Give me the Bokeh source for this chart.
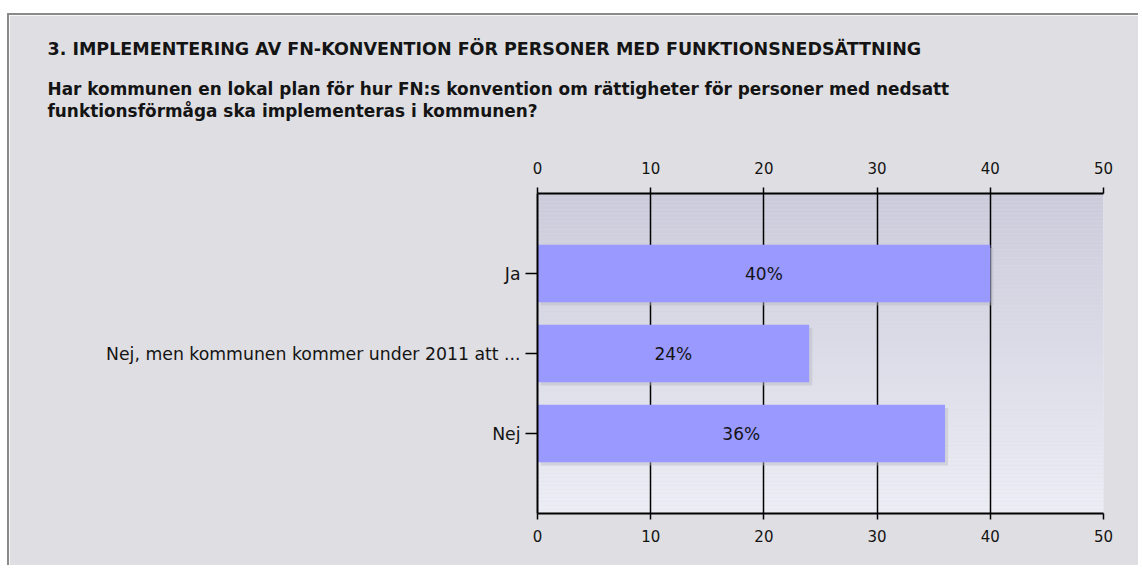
import numpy as np
from bokeh.plotting import figure
from bokeh.models import Range1d, FixedTicker, LinearAxis, ColumnDataSource, Spacer, Title
from bokeh.layouts import column, row
from bokeh.core.properties import value
from bokeh.embed import file_html
from bokeh.resources import INLINE

# ---- data ----
categories = ["Ja", "Nej, men kommunen kommer under 2011 att ...", "Nej"]
percent = [40, 24, 36]
x_ticks = [0, 10, 20, 30, 40, 50]
title_text = "3. IMPLEMENTERING AV FN-KONVENTION FÖR PERSONER MED FUNKTIONSNEDSÄTTNING"
question_lines = [
    "Har kommunen en lokal plan för hur FN:s konvention om rättigheter för personer med nedsatt",
    "funktionsförmåga ska implementeras i kommunen?",
]

# ---- style ----
W, H = 1131, 552
BG = "#dfdfe3"
BAR = "#9999ff"
TXT = "#141414"
FONT = "DejaVu Sans"
BORDER = "2px solid #8a8a8a"
BAR_H = 0.72

n = len(categories)
pos = list(range(1, n + 1))

p = figure(width=W, height=H, x_range=Range1d(0, 50), y_range=Range1d(n + 1, 0),
           output_backend="svg", toolbar_location=None,
           x_axis_location=None, y_axis_location="left",
           min_border_left=528, min_border_right=37, min_border_top=178, min_border_bottom=54)
p.border_fill_color = BG
p.background_fill_color = "#dcdce8"
p.outline_line_color = None
p.styles = {"border-left": BORDER, "border-top": BORDER}

# gradient background of plot area (decoration, lowest level)
edges = np.linspace(0, n + 1, 81)
t = (edges[:-1] + edges[1:]) / 2 / (n + 1)
top_c = np.array([0xcb, 0xcb, 0xdb])
bot_c = np.array([0xee, 0xee, 0xf6])
cols = ["#%02x%02x%02x" % tuple((top_c + (bot_c - top_c) * v).astype(int)) for v in t]
p.quad(left=0, right=50, top=edges[:-1], bottom=edges[1:], fill_color=cols, line_color=None,
       level="image")

src = ColumnDataSource(dict(y=pos, v=percent, mid=[v / 2 for v in percent],
                            lab=["%d%%" % v for v in percent]))

# soft drop shadow (offset a few pixels right/down), then bars
dx, dy = 0.27, 0.04
shadow = ColumnDataSource(dict(y=[y + dy for y in pos], l=[dx] * n, r=[v + dx for v in percent]))
p.hbar(y="y", left="l", right="r", height=BAR_H, source=shadow, fill_color="#b8b8c4",
       fill_alpha=0.45, line_color=None)
p.hbar(y="y", right="v", left=0, height=BAR_H, source=src, fill_color=BAR, line_color=None)
p.text(x="mid", y="y", text="lab", source=src, text_align="center", text_baseline="middle",
       text_font=value(FONT), text_font_size="17px", text_color=TXT)

# grid (behind bars)
p.ygrid.visible = False
p.xgrid.ticker = FixedTicker(ticks=x_ticks)
p.xgrid.grid_line_color = "black"
p.xgrid.grid_line_width = 1.5
p.xgrid.level = "underlay"

# x axes top and bottom
for loc, standoff in (("above", 14), ("below", 10)):
    ax = LinearAxis(ticker=FixedTicker(ticks=x_ticks))
    ax.axis_line_color = "black"
    ax.axis_line_width = 2
    ax.major_tick_line_color = "black"
    ax.major_tick_line_width = 1.5
    ax.major_tick_out = 6
    ax.major_tick_in = 0
    ax.minor_tick_line_color = None
    ax.major_label_standoff = standoff
    ax.major_label_text_font = FONT
    ax.major_label_text_font_size = "15px"
    ax.major_label_text_color = TXT
    p.add_layout(ax, loc)

# y axis
yax = p.yaxis[0]
yax.ticker = FixedTicker(ticks=pos)
yax.major_label_overrides = {k: c for k, c in zip(pos, categories)}
yax.axis_line_color = "black"
yax.axis_line_width = 2
yax.major_tick_line_color = "black"
yax.major_tick_line_width = 1.5
yax.major_tick_out = 12
yax.major_tick_in = 0
yax.minor_tick_line_color = None
yax.major_label_standoff = 5
yax.major_label_text_font = FONT
yax.major_label_text_font_size = "17.3px"
yax.major_label_text_color = TXT

# header texts as titles stacked above the top axis (inner first)
p.add_layout(Title(text=" ", align="left", standoff=16, text_font=FONT,
                   text_font_size="17px"), "above")
head = [(question_lines[1], 0, "16.9px"), (question_lines[0], 0, "16.9px"), (title_text, 36, "17.5px")]
for txt, so, fs in head:
    p.add_layout(Title(text=txt, align="left", offset=-490, standoff=so,
                       text_font=FONT, text_font_style="bold", text_font_size=fs,
                       text_color=TXT), "above")

page = row(Spacer(width=7, height=H),
           column(Spacer(width=W, height=13), p, spacing=0), spacing=0)
open("out.html", "w").write(file_html(page, INLINE))
